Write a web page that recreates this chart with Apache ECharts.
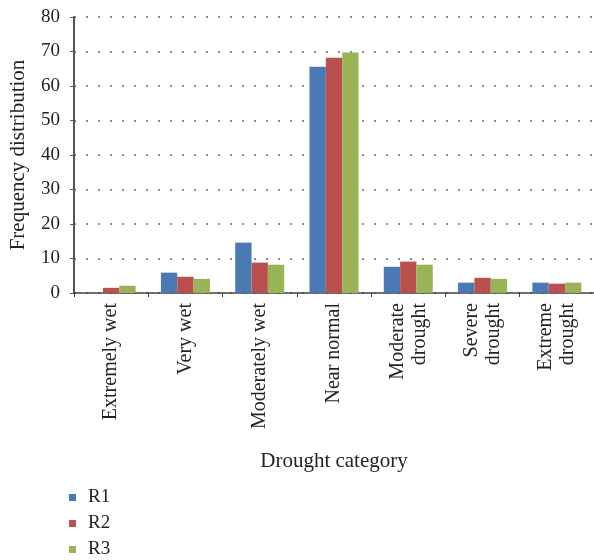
<!DOCTYPE html>
<html>
<head>
<meta charset="utf-8">
<script src="https://cdn.jsdelivr.net/npm/echarts@6/dist/echarts.min.js"></script>
<style>
  html, body { margin: 0; padding: 0; background: #fff; }
  #chart { width: 594px; height: 560px; }
</style>
</head>
<body>
<div id="chart"></div>
<script>
// Drought category frequency distribution for three regions
const categories = ['Extremely wet', 'Very wet', 'Moderately wet', 'Near normal',
  'Moderate\ndrought', 'Severe\ndrought', 'Extreme\ndrought'];
const seriesNames = ['R1', 'R2', 'R3'];
const r1 = [0, 5.9, 14.6, 65.6, 7.6, 3.0, 3.0];
const r2 = [1.5, 4.7, 8.8, 68.2, 9.1, 4.4, 2.7];
const r3 = [2.1, 4.1, 8.2, 69.7, 8.2, 4.1, 3.0];
const yTicks = { min: 0, max: 80, interval: 10 };
const colors = ['#4A79B4', '#B9504D', '#98B457'];

const FONT = 'Liberation Serif';
const chart = echarts.init(document.getElementById('chart'), null, { renderer: 'canvas' });

const values = [r1, r2, r3];
chart.setOption({
  animation: false,
  color: colors,
  textStyle: { fontFamily: FONT, color: '#222' },
  grid: { left: 70, top: 17, width: 525, bottom: 267, containLabel: false },
  legend: {
    orient: 'vertical',
    left: 69,
    top: 488,
    height: 90,
    padding: 0,
    icon: 'rect',
    itemWidth: 7,
    itemHeight: 7,
    itemGap: 7,
    textStyle: { fontFamily: FONT, fontSize: 19, lineHeight: 19, color: '#222', padding: [0, 0, 0, 7] },
    data: seriesNames
  },
  xAxis: {
    type: 'category',
    data: categories,
    name: 'Drought category',
    nameLocation: 'middle',
    nameGap: 158,
    nameTextStyle: { fontFamily: FONT, fontSize: 21, color: '#222' },
    axisLine: { lineStyle: { color: '#404040', width: 1.5 } },
    axisTick: { show: true, length: 4, alignWithLabel: false, lineStyle: { color: '#404040' } },
    axisLabel: {
      rotate: 90,
      interval: 0,
      margin: 10,
      fontFamily: FONT,
      fontSize: 20,
      lineHeight: 22,
      color: '#222'
    },
    splitLine: { show: false }
  },
  yAxis: {
    type: 'value',
    min: yTicks.min,
    max: yTicks.max,
    interval: yTicks.interval,
    name: 'Frequency distribution',
    nameLocation: 'middle',
    nameGap: 45,
    nameTextStyle: { fontFamily: FONT, fontSize: 21, color: '#222' },
    axisLine: { show: true, lineStyle: { color: '#555', width: 2 } },
    axisTick: { show: true, length: 4, lineStyle: { color: '#555' } },
    axisLabel: { margin: 14, fontFamily: FONT, fontSize: 19, color: '#222' },
    splitLine: { show: true, lineStyle: { type: [2, 10], color: '#666', width: 1.5 } }
  },
  series: seriesNames.map((name, i) => ({
    name: name,
    type: 'bar',
    data: values[i],
    barGap: '0%',
    barCategoryGap: '34%',
    itemStyle: { color: colors[i] }
  }))
});
</script>
</body>
</html>
